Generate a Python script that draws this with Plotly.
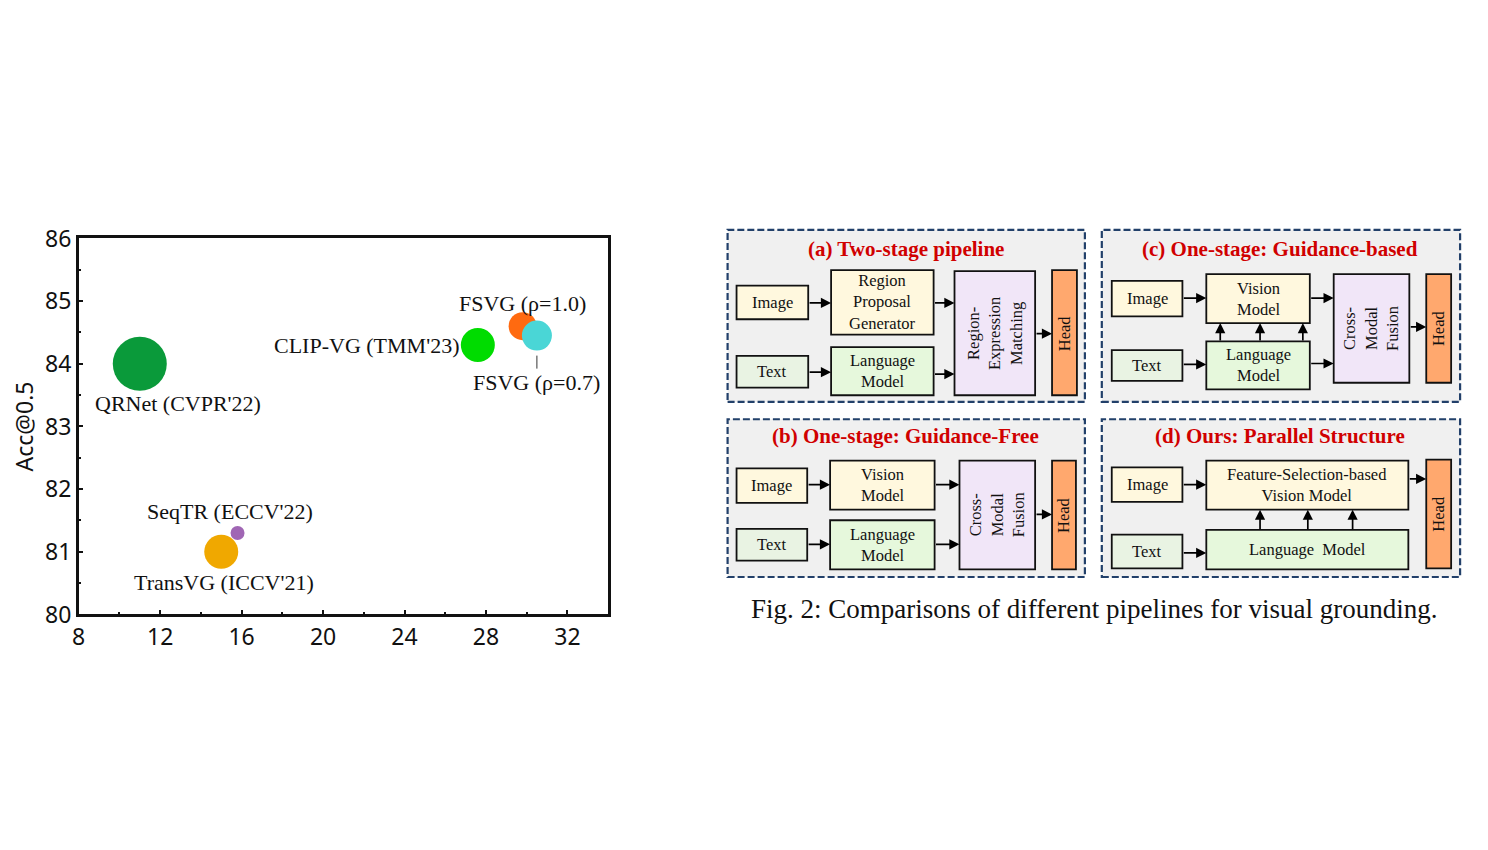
import plotly.graph_objects as go

# ---------------- data (scatter) ----------------
methods = ["QRNet (CVPR'22)", "CLIP-VG (TMM'23)", "FSVG (ρ=1.0)", "FSVG (ρ=0.7)",
           "TransVG (ICCV'21)", "SeqTR (ECCV'22)"]
x_vals = [11.0, 27.6, 29.8, 30.5, 15.0, 15.8]
acc_vals = [84.0, 84.3, 84.6, 84.45, 81.0, 81.3]
x_ticks = [8, 12, 16, 20, 24, 28, 32]
y_ticks = [80, 81, 82, 83, 84, 85, 86]

# styles
marker_diam = [54, 34, 28, 30, 34, 14]
marker_col = ["#0A9A3A", "#00DC00", "#FF6A10", "#4AD6D6", "#F0A800", "#A066B4"]
# label offsets in px (xshift, yshift, xanchor)
label_off = [(38, -40, "center"), (-17, 0, "right"), (0, 23, "center"), (0, -47, "center"),
             (3, -31, "center"), (-8, 22, "center")]

# page has an 8px body margin; map reference pixel coords onto the figure
M = 8
W, H = 1488 - 2 * M, 850 - 2 * M
def px(x): return (x - M) / W
def py(y): return 1 - (y - M) / H

fig = go.Figure()
fig.add_trace(go.Scatter(
    x=x_vals, y=acc_vals, mode="markers",
    marker=dict(size=marker_diam, color=marker_col, line=dict(width=0), opacity=1),
    hoverinfo="text", text=methods, showlegend=False))

SERIF = "Liberation Serif, Times New Roman, serif"
annotations = []
for i, m in enumerate(methods):
    xs, ys, xa = label_off[i]
    if "0.7" in m:
        annotations.append(dict(x=x_vals[i], y=acc_vals[i], xref="x", yref="y", text=m,
                                showarrow=True, arrowhead=0, arrowwidth=1, arrowcolor="#333",
                                ax=0, ay=47, standoff=20,
                                font=dict(family=SERIF, size=22, color="#111")))
    else:
        annotations.append(dict(x=x_vals[i], y=acc_vals[i], xref="x", yref="y", text=m,
                                showarrow=False, xshift=xs, yshift=ys, xanchor=xa,
                                yanchor="middle",
                                font=dict(family=SERIF, size=22, color="#111")))

# ---------------- diagram ----------------
Y = "#FFF8DE"; G1 = "#E9F3E3"; G2 = "#E6F8DC"; L = "#F1E6F8"; O = "#FFA86E"
panels = [
    dict(rect=(724, 221, 1083, 400), title="(a) Two-stage pipeline", tpos=(903, 241),
         boxes=[(733, 279, 805, 314, Y, "Image", False),
                (733, 352, 805, 385, G1, "Text", False),
                (828, 263, 931, 330, Y, "Region<br>Proposal<br>Generator", False),
                (828, 343, 931, 393, G2, "Language<br>Model", False),
                (952, 264, 1033, 393, L, "Region-<br>Expression<br>Matching", True),
                (1050, 263, 1075, 393, O, "Head", True)],
         arrows=[(805, 297, 828, 297), (805, 369, 828, 369), (931, 297, 952, 297),
                 (931, 371, 952, 371), (1033, 329, 1050, 329)]),
    dict(rect=(1100, 221, 1460, 400), title="(c) One-stage: Guidance-based", tpos=(1279, 241),
         boxes=[(1110, 274, 1181, 311, Y, "Image", False),
                (1110, 346, 1181, 378, G1, "Text", False),
                (1205, 267, 1309, 318, Y, "Vision<br>Model", False),
                (1205, 337, 1309, 387, G2, "Language<br>Model", False),
                (1333, 267, 1409, 380, L, "Cross-<br>Modal<br>Fusion", True),
                (1426, 267, 1451, 380, O, "Head", True)],
         arrows=[(1181, 292, 1205, 292), (1181, 361, 1205, 361), (1309, 292, 1333, 292),
                 (1309, 360, 1333, 360), (1409, 322, 1426, 322),
                 (1219, 337, 1219, 318), (1259, 337, 1259, 318), (1302, 337, 1302, 318)]),
    dict(rect=(724, 418, 1083, 582), title="(b) One-stage: Guidance-Free", tpos=(903, 435),
         boxes=[(733, 469, 804, 505, Y, "Image", False),
                (733, 532, 804, 565, G1, "Text", False),
                (827, 461, 932, 512, Y, "Vision<br>Model", False),
                (827, 523, 932, 574, G2, "Language<br>Model", False),
                (957, 461, 1033, 574, L, "Cross-<br>Modal<br>Fusion", True),
                (1050, 461, 1074, 574, O, "Head", True)],
         arrows=[(804, 486, 827, 486), (804, 548, 827, 548), (932, 486, 957, 486),
                 (932, 548, 957, 548), (1033, 517, 1050, 517)]),
    dict(rect=(1100, 418, 1460, 582), title="(d) Ours: Parallel Structure", tpos=(1279, 435),
         boxes=[(1110, 468, 1181, 504, Y, "Image", False),
                (1110, 538, 1181, 573, G1, "Text", False),
                (1205, 461, 1408, 512, Y, "Feature-Selection-based<br>Vision Model", False),
                (1205, 533, 1408, 574, G2, "Language  Model", False),
                (1426, 460, 1451, 573, O, "Head", True)],
         arrows=[(1181, 486, 1205, 486), (1181, 557, 1205, 557), (1408, 480, 1426, 480),
                 (1259, 533, 1259, 512), (1307, 533, 1307, 512), (1352, 533, 1352, 512)]),
]

shapes = []
for p in panels:
    x0, y0, x1, y1 = p["rect"]
    shapes.append(dict(type="rect", xref="paper", yref="paper", x0=px(x0), x1=px(x1),
                       y0=py(y1), y1=py(y0), fillcolor="#F0F0F0",
                       line=dict(color="#22406A", width=2.2, dash="7px,3px"), layer="below"))
    annotations.append(dict(x=px(p["tpos"][0]), y=py(p["tpos"][1]), xref="paper", yref="paper",
                            xanchor="center", yanchor="middle",
                            text="<b>" + p["title"] + "</b>", showarrow=False,
                            font=dict(family=SERIF, size=21, color="#D00000")))
    for (bx0, by0, bx1, by1, col, txt, rot) in p["boxes"]:
        shapes.append(dict(type="rect", xref="paper", yref="paper", x0=px(bx0), x1=px(bx1),
                           y0=py(by1), y1=py(by0), fillcolor=col,
                           line=dict(color="#111", width=1.8)))
        annotations.append(dict(x=px((bx0 + bx1) / 2), y=py((by0 + by1) / 2),
                                xref="paper", yref="paper", text=txt, showarrow=False,
                                xanchor="center", yanchor="middle",
                                textangle=-90 if rot else 0,
                                font=dict(family=SERIF, size=16.5, color="#111")))
    for (ax0, ay0, ax1, ay1) in p["arrows"]:
        annotations.append(dict(x=px(ax1), y=py(ay1), xref="paper", yref="paper",
                                ax=ax0 - ax1, ay=ay0 - ay1, axref="pixel", ayref="pixel",
                                text="", showarrow=True, arrowhead=2, arrowsize=1.2,
                                arrowwidth=1.7, arrowcolor="#000", standoff=0))

annotations.append(dict(x=px(1092), y=py(615), xref="paper", yref="paper",
                        xanchor="center", yanchor="middle",
                        text="Fig. 2: Comparisons of different pipelines for visual grounding.",
                        showarrow=False, font=dict(family=SERIF, size=27, color="#111")))

SANS = "Noto Sans, DejaVu Sans, sans-serif"
fig.update_layout(
    width=W, height=H, margin=dict(l=0, r=0, t=0, b=0),
    paper_bgcolor="white", plot_bgcolor="white",
    shapes=shapes, annotations=annotations,
    xaxis=dict(domain=[px(72), px(604)], range=[8, 34], tickvals=x_ticks,
               ticks="inside", ticklen=5, tickwidth=2, tickcolor="#111",
               minor=dict(dtick=2, tick0=8, ticks="inside", ticklen=3, tickwidth=1.5, tickcolor="#111"),
               showline=True, linecolor="#111", linewidth=2.5, mirror=True,
               showgrid=False, zeroline=False,
               tickfont=dict(family=SANS, size=23, color="#111")),
    yaxis=dict(domain=[py(621), py(230)], range=[80, 86], tickvals=y_ticks,
               ticks="inside", ticklen=5, tickwidth=2, tickcolor="#111",
               minor=dict(dtick=0.5, tick0=80, ticks="inside", ticklen=3, tickwidth=1.5, tickcolor="#111"),
               showline=True, linecolor="#111", linewidth=2.5, mirror=True,
               showgrid=False, zeroline=False,
               title=dict(text="Acc@0.5", font=dict(family=SANS, size=23, color="#111"), standoff=10),
               tickfont=dict(family=SANS, size=23, color="#111")),
)

fig.write_html("out.html", config={"displayModeBar": False})
